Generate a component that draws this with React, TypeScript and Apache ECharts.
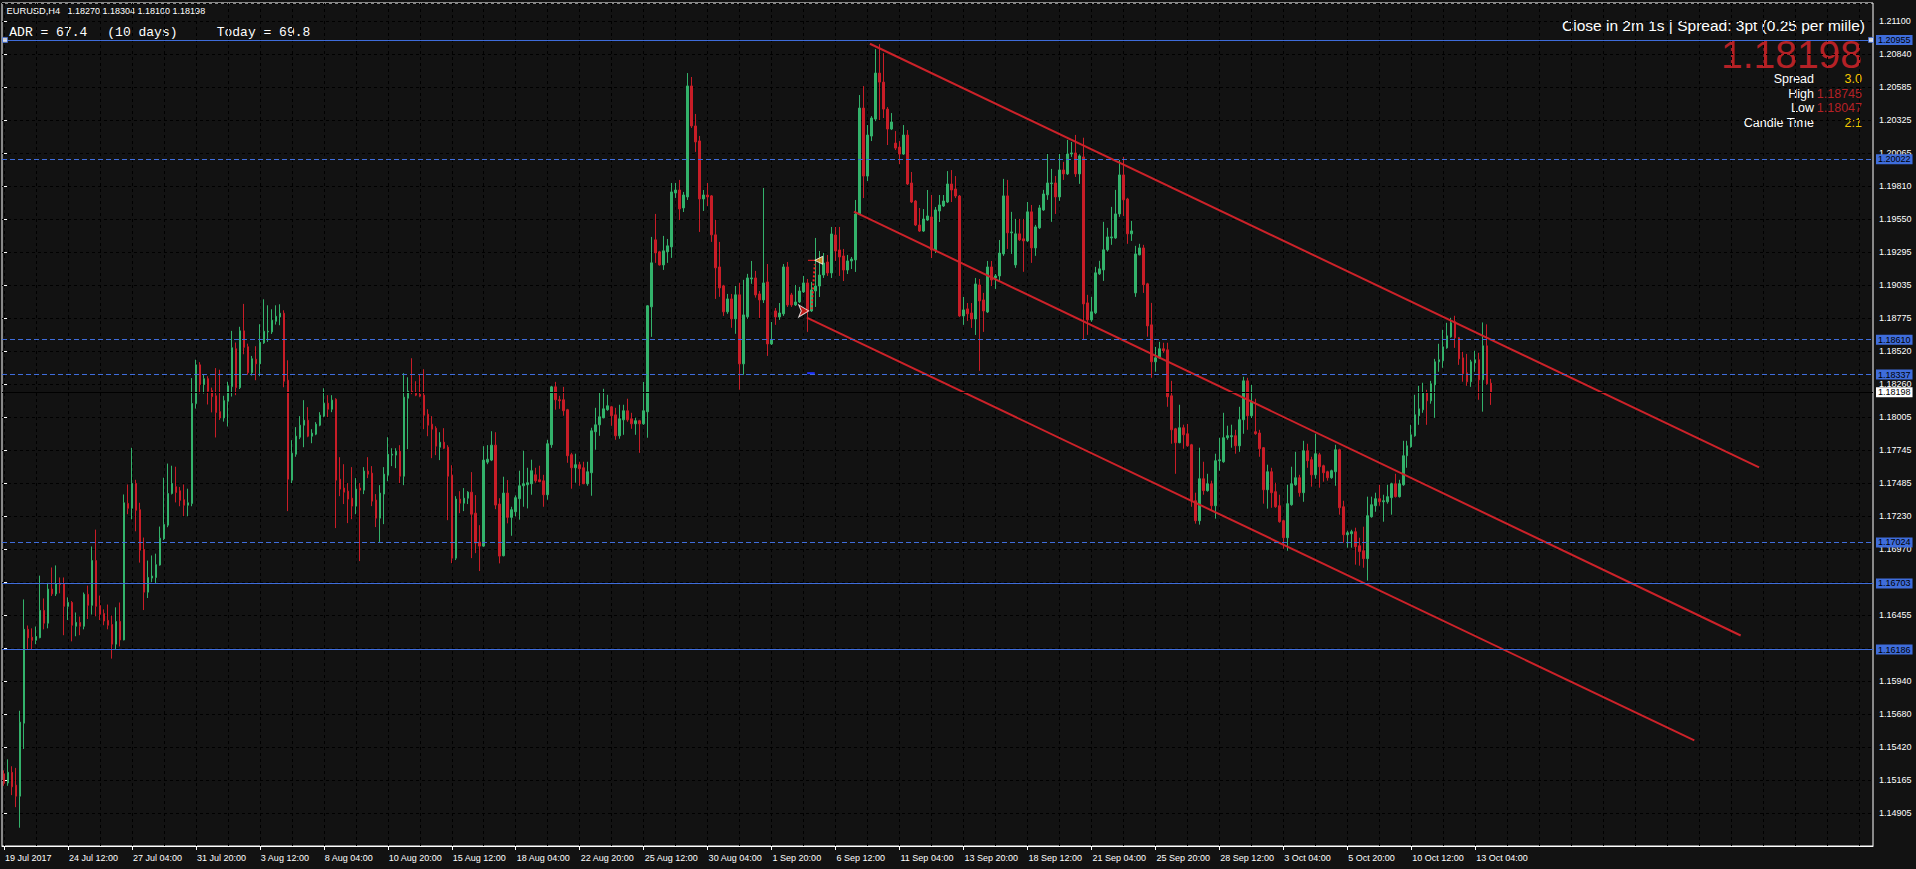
import React, { useEffect, useRef } from 'react';
import * as echarts from 'echarts';

// ---------- data ----------
const symbolName = 'EURUSD,H4';
const lastQuote = '1.18270 1.18304 1.18100 1.18198';

// bottom axis labels, one every 16 H4 bars starting at bar 0
const timeLabels = [
  '19 Jul 2017', '24 Jul 12:00', '27 Jul 04:00', '31 Jul 20:00', '3 Aug 12:00', '8 Aug 04:00',
  '10 Aug 20:00', '15 Aug 12:00', '18 Aug 04:00', '22 Aug 20:00', '25 Aug 12:00', '30 Aug 04:00',
  '1 Sep 20:00', '6 Sep 12:00', '11 Sep 04:00', '13 Sep 20:00', '18 Sep 12:00', '21 Sep 04:00',
  '25 Sep 20:00', '28 Sep 12:00', '3 Oct 04:00', '5 Oct 20:00', '10 Oct 12:00', '13 Oct 04:00',
];

// right axis labels, bottom to top
const priceTickLabels = [
  '1.14650', '1.14905', '1.15165', '1.15420', '1.15680', '1.15940', '1.16195', '1.16455', '1.16710',
  '1.16970', '1.17230', '1.17485', '1.17745', '1.18005', '1.18260', '1.18520', '1.18775', '1.19035',
  '1.19295', '1.19550', '1.19810', '1.20065', '1.20325', '1.20585', '1.20840', '1.21100',
];

// H4 candles: [open, close, low, high] in points (1 point = 0.00001)
const candles: number[][] = [
  [115214,115139,115120,115241],[115142,115225,115120,115327],[115225,115112,115047,115273],[115125,115039,114953,115260],
  [115039,115618,114792,115707],[115610,116344,115408,116578],[116344,116277,116183,116374],[116282,116258,116188,116352],
  [116258,116288,116228,116366],[116279,116492,116274,116764],[116492,116392,116344,116586],[116392,116659,116352,116707],
  [116659,116621,116605,116828],[116621,116702,116605,116844],[116702,116694,116626,116750],[116702,116524,116298,116750],
  [116524,116554,116417,116594],[116554,116376,116250,116565],[116368,116398,116290,116476],[116398,116368,116298,116444],
  [116368,116618,116344,116632],[116618,116532,116425,116686],[116532,116882,116460,116992],[116882,116524,116446,117124],
  [116530,116462,116417,116608],[116468,116409,116376,116500],[116414,116376,116344,116538],[116382,116228,116115,116452],
  [116228,116406,116188,116516],[116406,116261,116210,116554],[116261,117334,116258,117399],[117329,117291,117245,117477],
  [117291,117485,117205,117764],[117485,117275,117111,117514],[117280,116963,116866,117334],[116968,116635,116495,117062],
  [116635,116750,116589,116882],[116745,116761,116713,116922],[116750,116850,116707,116936],[116847,117057,116842,117148],
  [117052,117164,117043,117530],[117159,117407,117143,117641],[117407,117485,117399,117624],[117460,117415,117337,117616],
  [117428,117353,117307,117458],[117358,117315,117229,117477],[117315,117334,117229,117444],[117329,118111,117307,118310],
  [118111,118413,118071,118453],[118413,118259,118189,118434],[118259,118305,118189,118340],[118305,118206,118103,118324],
  [118211,118165,118041,118235],[118171,118041,117845,118388],[118047,117998,117982,118375],[117998,118133,117969,118171],
  [118128,118249,117931,118281],[118243,118547,118165,118679],[118539,118235,118176,118588],[118235,118679,118224,118711],
  [118679,118550,118496,118890],[118555,118353,118335,118579],[118353,118461,118329,118483],[118457,118421,118293,118559],
  [118421,118590,118324,118731],[118585,118676,118577,118926],[118671,118676,118593,118879],[118671,118762,118655,118848],
  [118754,118793,118728,118879],[118788,118817,118723,118887],[118817,118285,118238,118840],[118293,117519,117269,118449],
  [117511,117722,117488,117824],[117714,117855,117694,117926],[117847,117941,117832,118012],[117941,117980,117769,118137],
  [117980,117855,117847,118082],[117855,117879,117800,117910],[117871,117949,117863,117965],[117941,118019,117933,118043],
  [118012,118113,118004,118230],[118113,118066,118004,118176],[118066,118137,118043,118176],[118144,117511,117136,118152],
  [117519,117441,117386,117691],[117449,117417,117324,117636],[117425,117363,117175,117488],[117370,117308,117206,117613],
  [117308,117441,117245,117527],[117449,117433,116878,117488],[117433,117582,117402,117613],[117582,117558,117527,117691],
  [117566,117347,117308,117621],[117355,117214,117144,117402],[117214,117410,117026,117472],[117402,117558,117167,117613],
  [117550,117714,117503,117847],[117707,117714,117621,117761],[117707,117738,117605,117761],[117738,117542,117488,117785],
  [117542,118160,117472,118348],[118152,118207,117754,118316],[118207,118199,118184,118465],[118191,118176,118168,118285],
  [118184,118168,118160,118340],[118176,118019,117910,118379],[118027,117941,117855,118066],[117949,117910,117683,118012],
  [117918,117777,117707,117933],[117769,117808,117668,117886],[117808,117761,117754,117918],[117769,117542,117198,117785],
  [117550,116901,116862,117628],[116901,117363,116886,117386],[117363,117331,117253,117425],[117331,117370,117269,117449],
  [117370,117417,117324,117425],[117417,117245,116901,117574],[117253,117019,116940,117394],[117027,116995,116800,117159],
  [116995,117668,116990,117777],[117652,117675,117636,117785],[117668,117785,117660,117894],[117785,117316,117284,117886],
  [117324,116917,116860,117370],[116920,117410,116915,117538],[117410,117220,117173,117512],[117220,117280,117076,117303],
  [117264,117374,117228,117392],[117366,117467,117202,117585],[117467,117483,117303,117741],[117475,117491,117290,117608],
  [117483,117585,117397,117671],[117553,117506,117491,117608],[117514,117499,117495,117624],[117506,117397,117303,117553],
  [117397,117796,117358,117827],[117788,118241,117764,118249],[118241,118140,118062,118280],[118140,118132,118069,118171],
  [118140,118054,118015,118241],[118062,117702,117647,118069],[117710,117608,117444,117725],[117608,117632,117491,117718],
  [117632,117600,117467,117655],[117608,117483,117480,117655],[117483,117577,117467,117655],[117569,117897,117389,117921],
  [117890,117944,117749,118077],[117944,118007,117858,118194],[117999,118069,117995,118226],[118062,118093,118054,118179],
  [118085,118015,117936,118093],[118022,117858,117827,118077],[117858,117991,117835,118101],[117983,118054,117866,118101],
  [118054,117983,117968,118148],[117991,117952,117913,118038],[117952,117976,117866,117999],[117976,117952,117725,117983],
  [117952,118054,117944,118280],[118046,118875,117843,118880],[118867,119211,118632,119414],[119391,119289,119211,119594],
  [119297,119195,119190,119305],[119195,119305,119156,119422],[119297,119344,119211,119398],[119336,119766,119250,119836],
  [119758,119781,119719,119836],[119781,119633,119547,119860],[119641,119742,119609,119766],[119727,120595,119703,120696],
  [120595,120282,120266,120665],[120282,120157,120079,120376],[120165,119711,119453,120204],[119711,119742,119617,119781],
  [119742,119727,119656,119836],[119735,119430,119375,119742],[119430,119172,118929,119547],[119179,119015,118945,119375],
  [119031,118828,118796,119039],[118828,118929,118812,118968],[118929,118773,118703,118968],[118773,118961,118656,119031],
  [118961,118421,118218,119054],[118421,118804,118335,119078],[118789,119093,118773,119125],[119086,119093,119047,119226],
  [119093,118960,118939,119148],[118968,118921,118780,118991],[118921,119054,118897,119797],[119062,118577,118483,119202],
  [118577,118608,118569,118749],[118835,118788,118726,118858],[118788,118819,118765,118897],[118812,119179,118796,119202],
  [119179,118882,118866,119218],[118960,118882,118866,118976],[118882,118905,118874,119038],[118905,118991,118897,119023],
  [118984,119054,118976,119109],[119054,118835,118671,119085],[118835,118999,118827,119062],[118991,119030,118866,119406],
  [119030,119116,118944,119304],[119116,119210,119093,119288],[119218,119132,119109,119273],[119132,119437,119093,119492],
  [119429,119304,119226,119492],[119312,119257,119109,119492],[119265,119155,119069,119320],[119155,119226,119124,119273],
  [119226,119241,119163,119257],[119234,119593,119140,119703],[119593,120422,119585,120524],[120422,119890,119718,120594],
  [119890,120211,119851,120289],[120203,120344,120164,120359],[120336,120696,120320,120883],[120696,120625,120328,120922],
  [120625,120414,120344,120852],[120414,120258,120133,120430],[120258,120313,120250,120383],[120148,120109,120094,120242],
  [120117,120062,119984,120164],[120062,120211,120055,120289],[120211,119828,119820,120250],[119836,119687,119679,119922],
  [119695,119507,119499,119703],[119507,119460,119453,119640],[119460,119554,119453,119632],[119546,119578,119539,119781],
  [119570,119312,119249,119742],[119312,119625,119288,119648],[119617,119664,119531,119742],[119656,119695,119648,119742],
  [119687,119828,119679,119929],[119828,119781,119687,119937],[119789,119734,119718,119890],[119734,118796,118788,119742],
  [118796,118843,118726,118944],[118851,118812,118757,118897],[118819,118772,118702,118897],[118772,119046,118647,119093],
  [119038,118913,118366,119085],[118921,118835,118671,118976],[118827,119179,118819,119226],[119179,119077,119030,119226],
  [119093,119109,119007,119124],[119109,119288,119062,119390],[119281,119735,119266,119868],[119735,119446,119320,119860],
  [119446,119453,119281,119610],[119195,119438,119172,119555],[119438,119391,119383,119555],[119399,119383,119141,119555],
  [119383,119610,119375,119688],[119610,119328,119211,119664],[119328,119492,119266,119508],[119485,119641,119477,119664],
  [119625,119750,119618,119782],[119743,119836,119704,120063],[119831,119836,119532,119946],[119836,119727,119594,119891],
  [119727,119938,119696,120063],[119938,119907,119860,120001],[119907,120063,119899,120173],[120063,120071,120040,120157],
  [120071,119907,119883,120212],[119907,120048,119829,120060],[120040,118890,118609,120190],[118898,118765,118648,118961],
  [118765,118828,118750,118945],[118820,119133,118810,119180],[119125,119164,119117,119227],[119156,119313,119070,119532],
  [119313,119414,119300,119485],[119406,119414,119352,119649],[119406,119594,119399,119782],[119594,119899,119571,120016],
  [119899,119704,119578,120040],[119711,119438,119360,119720],[119438,119461,119383,119539],[118976,119281,118945,119344],
  [119274,119328,119270,119360],[119328,119039,118976,119352],[119047,118718,118633,119055],[118726,118437,118312,118898],
  [118437,118468,118359,118554],[118468,118539,118460,118593],[118539,118523,118507,118586],[118531,118163,118085,118586],
  [118171,117905,117796,118288],[117913,117804,117561,117920],[117804,117921,117800,118101],[117921,117866,117757,117945],
  [117874,117780,117773,117952],[117788,117350,117303,117795],[117350,117194,117171,117413],[117194,117522,117163,117765],
  [117522,117429,117397,117655],[117429,117483,117421,117561],[117483,117311,117272,117507],[117311,117663,117210,117718],
  [117663,117670,117585,117843],[117655,117843,117647,118038],[117843,117859,117827,117937],[117851,117859,117765,117945],
  [117859,117780,117718,117905],[117780,117984,117733,118085],[117984,118288,117874,118320],[118288,118015,117905,118312],
  [118015,118124,117997,118257],[117890,117874,117866,118148],[117880,117757,117694,117905],[117765,117436,117327,117770],
  [117436,117577,117288,117632],[117577,117413,117295,117608],[117421,117303,117295,117491],[117311,117186,117178,117397],
  [117194,117061,116975,117202],[117061,117327,116959,117475],[117319,117483,117311,117616],[117475,117530,117467,117733],
  [117530,117413,117382,117553],[117413,117741,117342,117819],[117741,117663,117608,117796],[117671,117553,117460,117694],
  [117553,117718,117522,117874],[117710,117616,117452,117725],[117624,117569,117499,117632],[117577,117530,117507,117585],
  [117530,117585,117522,117593],[117577,117749,117467,117788],[117749,117295,117241,117757],[117303,117084,117022,117350],
  [117084,117100,116983,117116],[117092,117108,116983,117123],[117108,116991,116850,117139],[116998,116952,116842,117061],
  [116959,116897,116826,117147],[116897,117233,116725,117382],[117225,117319,117217,117382],[117311,117366,117264,117413],
  [117366,117342,117311,117475],[117342,117350,117186,117397],[117342,117382,117327,117475],[117374,117483,117241,117491],
  [117483,117382,117375,117561],[117382,117483,117375,117514],[117475,117702,117467,117819],[117702,117780,117608,117819],
  [117772,117866,117765,117944],[117858,118023,117851,118179],[118015,118069,117944,118249],[118062,118195,118038,118273],
  [118195,118132,117944,118218],[118132,118265,118109,118288],[118257,118437,117999,118460],[118437,118453,118359,118578],
  [118445,118554,118390,118687],[118546,118640,118539,118742],[118632,118742,118625,118781],[118750,118625,118546,118797],
  [118625,118460,118413,118630],[118468,118343,118281,118515],[118351,118281,118249,118499],[118281,118437,118241,118453],
  [118429,118453,118359,118523],[118453,118296,118140,118507],[118296,118562,118047,118745],[118562,118265,118257,118730],
  [118270,118198,118100,118304],
];

const totalSlots = 468; // bars that fit in the visible window (incl. empty future)

// horizontal levels
const solidLevels = [1.20955, 1.16703, 1.16186];
const dashedLevels = [1.20022, 1.1861, 1.18337, 1.17024];
const bidPrice = 1.18198;

// channel trend lines: [bar position, price]
const channelTop = [[216.6, 1.20925], [439, 1.17611]];
const channelMid = [[212.6, 1.19612], [434.4, 1.16296]];
const channelLow = [[200.8, 1.18783], [422.8, 1.15475]];

// trade history objects
const tradeOpen = [201.3, 1.18835];
const tradeClose = [203.8, 1.19231];
const tradeLink = [[202.0, 1.18848], [202.8, 1.192]];
const tradeStub = [[201.1, 1.19231], [202.9, 1.19231]];
const stopMark = [[200.9, 1.18348], [202.8, 1.18348]];
const levelAnchors = [[0.25, 1.20955], [467.0, 1.20955]];

// info panel
const adrText = ['ADR = 67.4', '(10 days)', 'Today = 69.8'];
const closeInfo = 'Close in 2m 1s | Spread: 3pt (0.25 per mille)';
const bigPrice = '1.18198';
const infoRows = [
  ['Spread', '3.0'],
  ['High', '1.18745'],
  ['Low', '1.18047'],
  ['Candle Time', '2:1'],
];

// ---------- styles ----------
const BG = '#121212';
const GREEN = '#33b26b';
const RED = '#c81d27';
const LINE_RED = '#cc2229';
const BLUE = '#3f6ddb';
const GOLD = '#f7c600';
const INFO_RED = '#b52126';
const SANS = '"Liberation Sans", Arial, sans-serif';
const MONO = '"Liberation Mono", "Courier New", monospace';
const TICK_STEP = 0.0025822;
const Y_BASE = 1.1465;

export default function App() {
  const ref = useRef<HTMLDivElement>(null);

  useEffect(() => {
    document.body.style.margin = '0';
    document.body.style.background = BG;
    if (!ref.current) return;
    const chart = echarts.init(ref.current, undefined, { renderer: 'svg' });

    const cats = Array.from({ length: totalSlots }, (_, i) => String(i));
    const labelAt = (i: number) => i % 16 === 0 && i / 16 < timeLabels.length;

    const lineSeries = (data: number[][], color: string, width: number, type: any = 'solid') => ({
      type: 'line',
      xAxisIndex: 1,
      yAxisIndex: 0,
      data,
      symbol: 'none',
      silent: true,
      lineStyle: { color, width, type },
      z: 4,
    });

    const rowY = [79, 93.5, 108, 123];

    const graphics: any[] = [
      { type: 'text', x: 6.5, y: 11, style: { text: symbolName, fill: '#fff', font: `9.3px ${SANS}`, textVerticalAlign: 'middle' } },
      { type: 'text', x: 67.5, y: 11, style: { text: lastQuote, fill: '#fff', font: `9px ${SANS}`, textVerticalAlign: 'middle' } },
      { type: 'text', x: 9.3, y: 32, style: { text: adrText[0], fill: '#fff', font: `13px ${MONO}`, textVerticalAlign: 'middle' } },
      { type: 'text', x: 107.3, y: 32, style: { text: adrText[1], fill: '#fff', font: `13px ${MONO}`, textVerticalAlign: 'middle' } },
      { type: 'text', x: 216.7, y: 32, style: { text: adrText[2], fill: '#fff', font: `13px ${MONO}`, textVerticalAlign: 'middle' } },
      { type: 'text', x: 1865, y: 25, style: { text: closeInfo, fill: '#fff', font: `15.5px ${SANS}`, textAlign: 'right', textVerticalAlign: 'middle' } },
      { type: 'text', x: 1862, y: 54, style: { text: bigPrice, fill: INFO_RED, font: `39px ${SANS}`, textAlign: 'right', textVerticalAlign: 'middle' } },
    ];
    infoRows.forEach((r, i) => {
      const valColor = i === 0 || i === 3 ? GOLD : INFO_RED;
      graphics.push({ type: 'text', x: 1814, y: rowY[i], style: { text: r[0], fill: '#fff', font: `12.5px ${SANS}`, textAlign: 'right', textVerticalAlign: 'middle' } });
      graphics.push({ type: 'text', x: 1862, y: rowY[i], style: { text: r[1], fill: valColor, font: `12.5px ${SANS}`, textAlign: 'right', textVerticalAlign: 'middle' } });
    });

    const option: any = {
      animation: false,
      backgroundColor: BG,
      grid: { left: 2, top: 3, right: 43, bottom: 23, show: true, borderColor: '#ffffff', borderWidth: 1, backgroundColor: 'transparent' },
      xAxis: [
        {
          type: 'category',
          data: cats,
          boundaryGap: true,
          axisLine: { show: true, lineStyle: { color: '#fff' } },
          axisTick: { show: true, alignWithLabel: true, interval: (i: number) => labelAt(i), length: 4, lineStyle: { color: '#fff' } },
          axisLabel: {
            show: true,
            interval: (i: number) => labelAt(i),
            formatter: (_v: string, i: number) => (labelAt(i) ? timeLabels[i / 16] : ''),
            align: 'left',
            padding: [0, 0, 0, 1],
            margin: 7,
            color: '#fff',
            fontSize: 9,
            fontFamily: SANS,
          },
          splitLine: { show: true, alignWithLabel: true, interval: (i: number) => i % 8 === 0, lineStyle: { color: '#000', type: [3, 3], width: 1 } },
        },
        { type: 'value', show: false, min: -0.5, max: totalSlots - 0.5 },
      ],
      yAxis: [
        {
          type: 'value',
          position: 'right',
          min: 1.14649,
          max: 1.21244,
          interval: TICK_STEP,
          axisLine: { show: false },
          axisTick: { show: true, length: 3, lineStyle: { color: '#fff' } },
          axisLabel: {
            margin: 6,
            color: '#fff',
            fontSize: 9,
            fontFamily: SANS,
            showMaxLabel: false,
            formatter: (v: number) => {
              if (v < 1.146495) return '';
              const k = Math.round((v - Y_BASE) / TICK_STEP);
              return priceTickLabels[k] ?? '';
            },
          },
          splitLine: { show: true, lineStyle: { color: '#000', type: [3, 3], width: 1 } },
        },
      ],
      series: [
        {
          type: 'candlestick',
          xAxisIndex: 0,
          yAxisIndex: 0,
          barWidth: 2,
          silent: true,
          data: candles.map((c) => c.map((v) => v / 100000)),
          itemStyle: { color: GREEN, color0: RED, borderColor: GREEN, borderColor0: RED, borderColorDoji: GREEN, borderWidth: 1 },
          markLine: {
            silent: true,
            precision: 5,
            symbol: ['none', 'none'],
            animation: false,
            lineStyle: { color: BLUE, width: 1 },
            label: {
              show: true,
              position: 'end',
              distance: 3,
              formatter: (p: any) => Number(p.data && p.data.yAxis != null ? p.data.yAxis : p.value).toFixed(5),
              color: '#000',
              backgroundColor: BLUE,
              padding: [1, 2, 0, 2],
              fontSize: 9,
              fontFamily: SANS,
            },
            emphasis: { disabled: true },
            data: [
              ...solidLevels.map((v) => ({ yAxis: v, lineStyle: { type: 'solid', color: BLUE } })),
              ...dashedLevels.map((v) => ({ yAxis: v, lineStyle: { type: [5, 3], color: BLUE } })),
              { yAxis: bidPrice, lineStyle: { type: 'solid', color: '#000' }, label: { backgroundColor: '#fff', color: '#000' } },
            ],
          },
        },
        lineSeries(channelTop, LINE_RED, 2),
        lineSeries(channelMid, LINE_RED, 2),
        lineSeries(channelLow, LINE_RED, 2),
        lineSeries(tradeLink, '#ff2020', 2, 'dotted'),
        lineSeries(tradeStub, '#ff2020', 1),
        lineSeries(stopMark, '#2030ff', 2),
        {
          type: 'scatter', xAxisIndex: 1, yAxisIndex: 0, silent: true, z: 5,
          data: [tradeOpen], symbol: 'arrow', symbolRotate: -90, symbolSize: [9, 10],
          itemStyle: { color: '#e8201a', borderColor: '#fff', borderWidth: 1 },
        },
        {
          type: 'scatter', xAxisIndex: 1, yAxisIndex: 0, silent: true, z: 5,
          data: [tradeClose], symbol: 'triangle', symbolRotate: 90, symbolSize: 8,
          itemStyle: { color: '#f0a028', borderColor: '#fff', borderWidth: 1 },
        },
        {
          type: 'scatter', xAxisIndex: 1, yAxisIndex: 0, silent: true, z: 5,
          data: levelAnchors, symbol: 'rect', symbolSize: 5,
          itemStyle: { color: '#fff', borderColor: BLUE, borderWidth: 1 },
        },
      ],
      graphic: graphics,
    };

    chart.setOption(option);
    return () => chart.dispose();
  }, []);

  return <div ref={ref} style={{ width: 1916, height: 869, background: BG }} />;
}
